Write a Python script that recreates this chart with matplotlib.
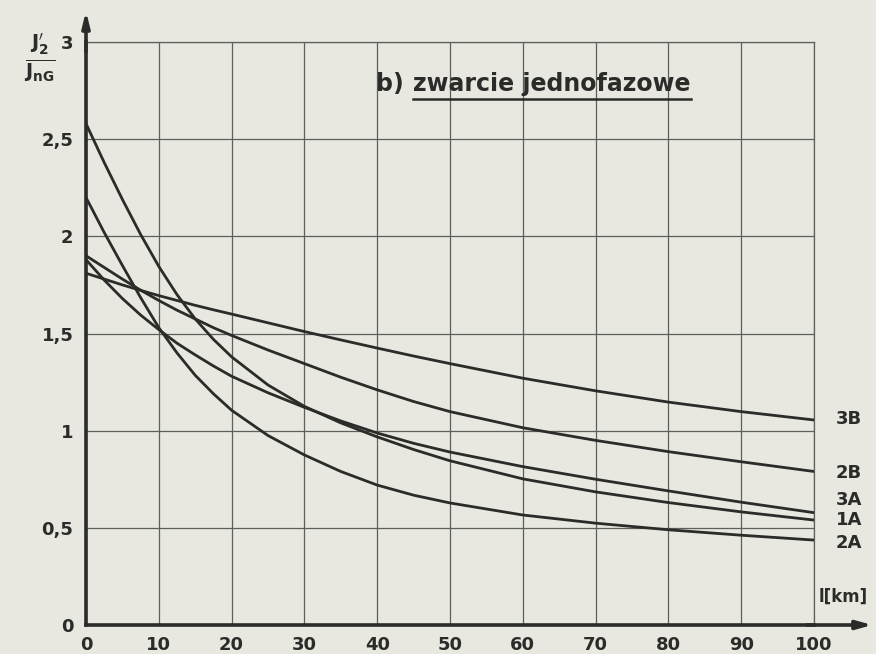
import matplotlib
matplotlib.use("Agg")
import matplotlib.pyplot as plt
from matplotlib.lines import Line2D

# ---- data ----
x_km = [0, 2.5, 5, 7.5, 10, 12.5, 15, 17.5, 20, 25, 30, 35, 40, 45, 50, 60, 70, 80, 90, 100]
curve_3B = [1.81, 1.78, 1.75, 1.722, 1.695, 1.67, 1.645, 1.622, 1.60, 1.555, 1.51, 1.467,
            1.425, 1.384, 1.345, 1.27, 1.205, 1.147, 1.098, 1.055]
curve_2B = [1.90, 1.84, 1.78, 1.723, 1.67, 1.62, 1.575, 1.53, 1.49, 1.415, 1.345, 1.275,
            1.21, 1.15, 1.098, 1.015, 0.95, 0.892, 0.84, 0.79]
curve_3A = [1.88, 1.775, 1.68, 1.595, 1.52, 1.45, 1.39, 1.333, 1.28, 1.195, 1.12, 1.05,
            0.988, 0.935, 0.89, 0.815, 0.75, 0.69, 0.632, 0.578]
curve_1A = [2.58, 2.38, 2.19, 2.01, 1.845, 1.70, 1.575, 1.47, 1.38, 1.235, 1.125, 1.04,
            0.968, 0.903, 0.845, 0.752, 0.685, 0.63, 0.582, 0.54]
curve_2A = [2.20, 2.02, 1.85, 1.685, 1.53, 1.40, 1.285, 1.19, 1.105, 0.975, 0.875, 0.79,
            0.72, 0.668, 0.628, 0.566, 0.524, 0.49, 0.462, 0.437]
series_names = ["3B", "2B", "3A", "1A", "2A"]
series_values = [curve_3B, curve_2B, curve_3A, curve_1A, curve_2A]
label_y = [1.06, 0.78, 0.645, 0.54, 0.42]

x_ticks = [0, 10, 20, 30, 40, 50, 60, 70, 80, 90, 100]
x_tick_labels = ["0", "10", "20", "30", "40", "50", "60", "70", "80", "90", "100"]
y_ticks = [0, 0.5, 1, 1.5, 2, 2.5, 3]
y_tick_labels = ["0", "0,5", "1", "1,5", "2", "2,5", "3"]

W, H = 876, 654
bg = "#e8e8e1"
ink = "#2b2b29"
gridc = "#5e5e5a"

fig = plt.figure(figsize=(W / 100, H / 100), dpi=100, facecolor=bg)
ax = fig.add_axes([86 / W, 29 / H, 728 / W, 583 / H], facecolor=bg)
ax.set_xlim(0, 100)
ax.set_ylim(0, 3)

ax.set_xticks(x_ticks)
ax.set_xticklabels(x_tick_labels, fontweight="bold")
ax.set_yticks(y_ticks)
ax.set_yticklabels(y_tick_labels, fontweight="bold")
ax.tick_params(length=0, labelsize=13, colors=ink)
ax.tick_params(axis="x", pad=8)
ax.tick_params(axis="y", pad=9)
ax.grid(True, color=gridc, lw=0.9)
for s in ["top", "right"]:
    ax.spines[s].set_color(gridc)
    ax.spines[s].set_linewidth(0.9)
for s in ["left", "bottom"]:
    ax.spines[s].set_color(ink)
    ax.spines[s].set_linewidth(2.6)

for name, vals in zip(series_names, series_values):
    ax.plot(x_km, vals, color=ink, lw=2.0, solid_capstyle="round",
            solid_joinstyle="round", zorder=3)

for name, yl in zip(series_names, label_y):
    ax.text(103, yl, name, fontsize=13, fontweight="bold", color=ink,
            va="center", ha="left", clip_on=False)

# axis arrows
ax.annotate("", xy=(108, 0), xytext=(99, 0), xycoords="data",
            arrowprops=dict(arrowstyle="-|>,head_length=0.9,head_width=0.25",
                            color=ink, lw=2.6, shrinkA=0, shrinkB=0),
            annotation_clip=False)
ax.annotate("", xy=(0, 3.16), xytext=(0, 2.95), xycoords="data",
            arrowprops=dict(arrowstyle="-|>,head_length=0.9,head_width=0.22",
                            color=ink, lw=2.6, shrinkA=0, shrinkB=0),
            annotation_clip=False)

ax.text(100.6, 0.1, "l[km]", fontsize=12, fontweight="bold", color=ink,
        ha="left", va="bottom", clip_on=False)

# y quantity label
fig.text(40 / W, 1 - 58 / H, r"$\frac{\mathbf{J}_\mathbf{2}^{\prime}}{\mathbf{J}_\mathbf{nG}}$",
         fontsize=20, color=ink, ha="center", va="center")

# title with underline
fig.text(376 / W, 1 - 84 / H, "b)", fontsize=17, fontweight="bold", color=ink,
         ha="left", va="center")
t = fig.text(413 / W, 1 - 84 / H, "zwarcie jednofazowe", fontsize=17,
             fontweight="bold", color=ink, ha="left", va="center")
fig.canvas.draw()
bb = t.get_window_extent()
fig.add_artist(Line2D([bb.x0 / W, bb.x1 / W], [1 - 99 / H, 1 - 99 / H],
                      transform=fig.transFigure, color=ink, lw=1.8))

fig.savefig("out.png", dpi=100, facecolor=bg)
